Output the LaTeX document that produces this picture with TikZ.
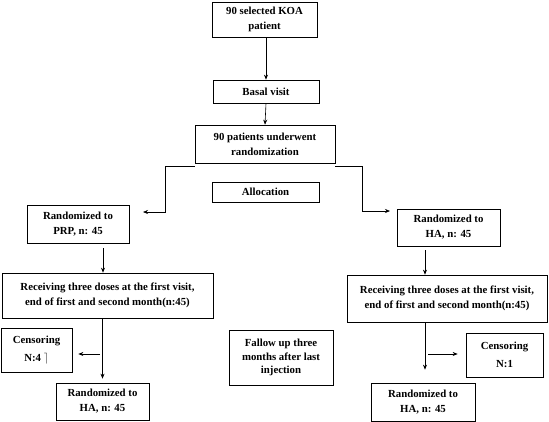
\documentclass[tikz,border=0pt]{standalone}
\usepackage{fontspec}
\setmainfont{Liberation Serif}
\usepackage{tikz}
\usetikzlibrary{calc,arrows.meta}

\begin{document}
\begin{tikzpicture}[x=1pt, y=-1pt,
    box/.style={draw, line width=0.7pt, align=center, inner sep=1pt,
        font=\fontsize{10.8}{15}\selectfont\bfseries},
    arr/.style={line width=0.6pt, -{Stealth[length=5pt,width=4pt]}}]
    \useasboundingbox (0,0) rectangle (549,421);
    % top of the flow
    \node[box, minimum width=105, minimum height=35] (sel) at (264.5,19.5) {90 selected KOA\\patient};
    \node[box, minimum width=106, minimum height=23] (basal) at (266,91.5) {Basal visit};
    \node[box, minimum width=140, minimum height=38] (rand) at (265,144) {90 patients underwent\\randomization};
    \node[box, minimum width=107, minimum height=20] (alloc) at (265.5,192) {Allocation};
    % PRP arm
    \node[box, minimum width=102, minimum height=38] (prp) at (78,224) {Randomized to\\PRP, n: 45};
    \node[box, minimum width=211, minimum height=45] (recL) at (107.5,295.5) {Receiving three doses at the first visit,\\end of first and second month(n:45)};
    \node[box, minimum width=71, minimum height=44] (censL) at (36.5,350) {Censoring\\[3pt]N:4\ $\rceil$};
    \node[box, minimum width=93, minimum height=37] (haL) at (102.5,401.5) {Randomized to\\HA, n: 45};
    % middle
    \node[box, minimum width=104, minimum height=55, font=\fontsize{10.8}{13.5}\selectfont\bfseries] (follow) at (281,357.5) {Fallow up three\\months after last\\injection};
    % HA arm
    \node[box, minimum width=103, minimum height=37] (ha) at (448.5,227.5) {Randomized to\\HA, n: 45};
    \node[box, minimum width=200, minimum height=47] (recR) at (447,298.5) {Receiving three doses at the first visit,\\end of first and second month(n:45)};
    \node[box, minimum width=77, minimum height=44] (censR) at (504.5,355) {Censoring\\[3pt]N:1};
    \node[box, minimum width=104, minimum height=38] (haR) at (423,402) {Randomized to\\HA, n: 45};
    % helper points
    \coordinate (lx) at (103,0);
    \coordinate (rx) at (425,0);
    \coordinate (lbend) at (165,212);
    \coordinate (lend) at (143,212);
    \coordinate (rbend) at (362,211);
    \coordinate (rend) at (390,211);
    \coordinate (cl) at (100,354);
    \coordinate (cr) at (428,354);
    % connectors
    \draw[arr] (sel.south -| basal.north) -- (basal.north);
    \draw[arr] (basal.south) -- (rand.north);
    \draw[arr] ([yshift=-3pt]rand.south west) -| (lbend) -- (lend);
    \draw[arr] ([yshift=-3pt]rand.south east) -| (rbend) -- (rend);
    \draw[arr, shorten <=5pt] (prp.south -| lx) -- (recL.north -| lx);
    \draw[arr, shorten >=4pt] (recL.south -| haL.north) -- (haL.north);
    \draw[arr, shorten >=6pt] (cl) -- (cl -| censL.east);
    \draw[arr, shorten <=4pt] (ha.south -| rx) -- (recR.north -| rx);
    \draw[arr, shorten >=13pt] (recR.south -| rx) -- (rx |- haR.north);
    \draw[arr, shorten >=8pt] (cr) -- (cr -| censR.west);
\end{tikzpicture}
\end{document}
